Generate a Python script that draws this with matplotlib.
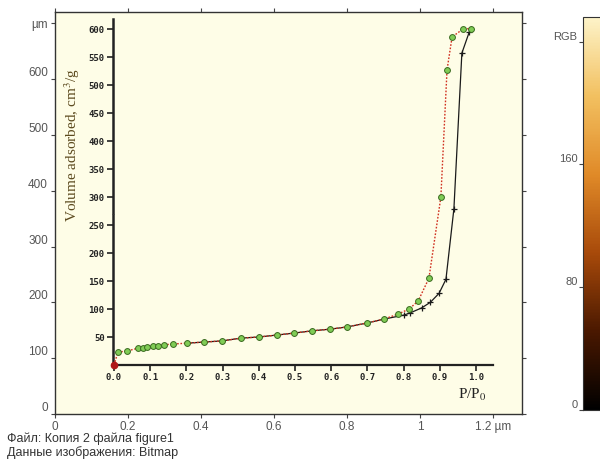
import matplotlib
matplotlib.use("Agg")
import matplotlib.pyplot as plt
from matplotlib import cm
from matplotlib.colors import LinearSegmentedColormap, Normalize

plt.rcParams["mathtext.fontset"] = "stix"

# adsorption branch (green circles, red dotted line); first point is the origin
ads_p = [0.0, 0.011, 0.036, 0.066, 0.080, 0.091, 0.108, 0.122, 0.138, 0.163, 0.202,
         0.249, 0.298, 0.351, 0.400, 0.450, 0.497, 0.547, 0.597, 0.644, 0.699,
         0.746, 0.785, 0.815, 0.840, 0.870, 0.903, 0.920, 0.934, 0.964, 0.986]
ads_v = [0, 23, 25, 30, 31, 32, 34, 34, 36, 37.5, 39,
         41, 43, 48, 50, 53.5, 57, 61, 64, 68, 75,
         82, 91, 100, 114, 155, 300, 527, 586, 600, 601]

# desorption branch (black line, + markers)
des_p = [0.986, 0.981, 0.961, 0.939, 0.917, 0.898, 0.874, 0.850, 0.818, 0.800,
         0.746, 0.699, 0.644, 0.597, 0.547, 0.497, 0.450, 0.400, 0.351, 0.298,
         0.249, 0.202]
des_v = [601, 594, 557, 279, 153, 128, 112, 102, 93, 89,
         82, 75, 68, 64, 61, 57, 53.5, 50, 48, 43,
         41, 39]

inner_xticks = [0.0, 0.1, 0.2, 0.3, 0.4, 0.5, 0.6, 0.7, 0.8, 0.9, 1.0]
inner_yticks = [50, 100, 150, 200, 250, 300, 350, 400, 450, 500, 550, 600]

outer_xticks = [0, 0.2, 0.4, 0.6, 0.8, 1.0, 1.2]
outer_xlabels = ["0", "0.2", "0.4", "0.6", "0.8", "1", "1.2 µm"]
outer_yticks = [0, 100, 200, 300, 400, 500, 600, 700]
outer_ylabels = ["0", "100", "200", "300", "400", "500", "600", "µm"]

cbar_ticks = [0, 80, 160, 240]
cbar_labels = ["0", "80", "160", "RGB"]

W, H = 600, 463


def box(l, t, r, b):
    return [l / W, 1 - b / H, (r - l) / W, (b - t) / H]


fig = plt.figure(figsize=(6, 4.63), dpi=100)
fig.patch.set_facecolor("white")

# outer viewer frame
outer = fig.add_axes(box(55, 12, 522, 414))
outer.set_facecolor("#fefde7")
outer.set_xlim(0, 1.279)
outer.set_ylim(0, 720)
outer.set_xticks(outer_xticks)
outer.set_xticklabels(outer_xlabels)
outer.set_yticks(outer_yticks)
outer.set_yticklabels(outer_ylabels)
outer.tick_params(direction="out", length=3, width=0.8, color="#444444",
                  labelsize=8.5, labelcolor="#555555",
                  top=True, right=True, pad=2)
for lab in outer.get_xticklabels() + outer.get_yticklabels():
    lab.set_family("Liberation Sans")
for lab in outer.get_yticklabels()[:-1]:
    lab.set_va("bottom")
for s in outer.spines.values():
    s.set_color("#333333")
    s.set_linewidth(1)

# colour bar
cmap = LinearSegmentedColormap.from_list(
    "gold", ["#000000", "#4a1800", "#a84a0a", "#e08a28", "#f2c060", "#fdf3c8"])
cax = fig.add_axes(box(583, 17, 606, 410))
cb = fig.colorbar(cm.ScalarMappable(norm=Normalize(0, 256), cmap=cmap), cax=cax)
cb.outline.set_edgecolor("#333333")
cax.yaxis.set_ticks_position("left")
cax.set_yticks(cbar_ticks)
cax.set_yticklabels(cbar_labels)
cax.tick_params(direction="out", length=3, color="#444444", labelsize=8,
                labelcolor="#555555", pad=1)
for lab in cax.get_yticklabels():
    lab.set_family("Liberation Sans")
    lab.set_va("bottom")

# inner isotherm plot
ax = fig.add_axes(box(113, 19, 493, 365))
ax.patch.set_alpha(0)
ax.set_xlim(-0.00276, 1.047)
ax.set_ylim(0, 618)
for k in ["top", "right", "left"]:
    ax.spines[k].set_visible(False)
ax.spines["bottom"].set_linewidth(1.6)
ax.spines["bottom"].set_color("#222222")
# broken y axis line
ax.axvline(ax.get_xlim()[0], 0, 268 / 618, color="#222222", lw=1.8, clip_on=False)
ax.axvline(ax.get_xlim()[0], 272 / 618, 1, color="#222222", lw=1.8, clip_on=False)

ax.plot(des_p, des_v, color="#1a1a1a", lw=0.9, marker="+", ms=5, mew=0.9, zorder=3)
ax.plot(ads_p, ads_v, color="#d03020", lw=1.0, linestyle=(0, (1.2, 1.2)),
        marker="o", ms=4.2, mfc="#80cc55", mec="#3a6a20", mew=0.7,
        markevery=list(range(1, len(ads_p))), zorder=4)
ax.plot(ads_p[:1], ads_v[:1], "o", color="#b01818", ms=4.5, clip_on=False, zorder=5)

ax.set_xticks(inner_xticks)
ax.set_xticklabels([f"{t:.1f}" for t in inner_xticks])
ax.set_yticks(inner_yticks)
ax.tick_params(direction="out", length=4, width=1.2, color="#222222",
               labelsize=6.5, labelcolor="#222222", pad=2)
for lab in ax.get_xticklabels() + ax.get_yticklabels():
    lab.set_family("DejaVu Sans Mono")
    lab.set_weight("bold")

fig.text(72 / W, 1 - 145 / H, "Volume adsorbed, cm$^3$/g", rotation=90,
         ha="center", va="center", fontsize=11, family="Liberation Serif",
         color="#5c4a1e")
fig.text(472 / W, 1 - 395 / H, "P/P$_0$", ha="center", va="center",
         fontsize=11, family="Liberation Serif", color="#222222")

fig.text(7 / W, 1 - 439 / H, "Файл: Копия 2 файла figure1", ha="left",
         va="center", fontsize=9, family="Liberation Sans", color="#333333")
fig.text(7 / W, 1 - 453 / H, "Данные изображения: Bitmap", ha="left",
         va="center", fontsize=9, family="Liberation Sans", color="#333333")

fig.savefig("out.png", dpi=100)
